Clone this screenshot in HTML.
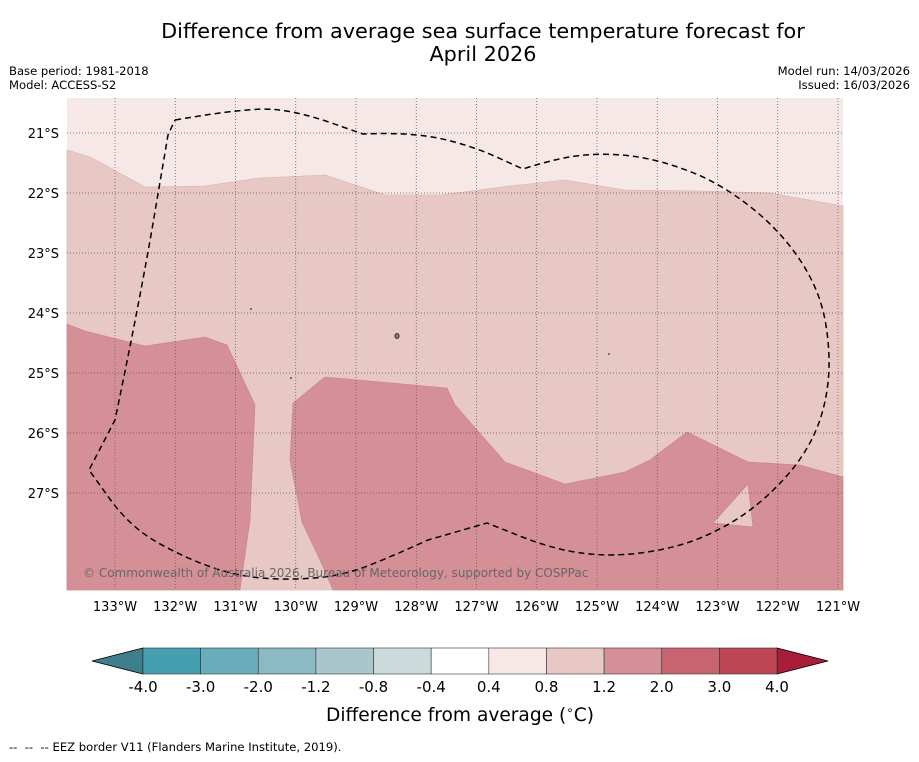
<!DOCTYPE html>
<html><head><meta charset="utf-8"><style>
body{margin:0;background:#fff;font-family:"DejaVu Sans","Liberation Sans",sans-serif;}
svg text{font-family:"DejaVu Sans","Liberation Sans",sans-serif;}
</style></head><body>
<svg id="chart" width="919" height="758" viewBox="0 0 919 758" xmlns="http://www.w3.org/2000/svg">
<text x="483" y="38" font-size="20.8" text-anchor="middle">Difference from average sea surface temperature forecast for</text>
<text x="483" y="61" font-size="20.8" text-anchor="middle">April 2026</text>
<text x="9" y="75" font-size="11.6">Base period: 1981-2018</text>
<text x="9" y="89" font-size="11.6">Model: ACCESS-S2</text>
<text x="910" y="75" font-size="11.6" text-anchor="end">Model run: 14/03/2026</text>
<text x="910" y="89" font-size="11.6" text-anchor="end">Issued: 16/03/2026</text>
<g id="map">
<rect x="67" y="98" width="776" height="492" fill="#f5e8e7"/>
<polygon fill="#e8c8c4" stroke="#d8b0ac" stroke-width="0.6" points="67,150 90,157 145,187 205,186 260,178 325,175 385,195 440,195 510,186 565,180 625,190 700,191 770,193 843,206 843,590 67,590"/>
<polygon fill="#d59097" stroke="#c88088" stroke-width="0.6" points="67,324 85,331 145,346 205,337 227,345 255,405 250,520 240,590 67,590"/>
<polygon fill="#d59097" stroke="#c88088" stroke-width="0.6" points="293,403 325,377 447,388 455,405 505,462 565,484 625,472 650,460 687,432 748,462 800,465 843,477 843,590 333,590 320,560 302,522 290,460"/>
<polygon fill="#e8c8c4" stroke="#c88088" stroke-width="0.6" points="713,523 748,484 753,527"/>
<g id="grid" stroke="#555" stroke-width="0.7" stroke-dasharray="1,2"></g>
<path id="eez" fill="none" stroke="#000" stroke-width="1.5" stroke-dasharray="6,4"/>
<ellipse cx="397" cy="336" rx="2" ry="2.5" fill="#888" stroke="#000" stroke-width="0.8"/>
<circle cx="251" cy="309" r="0.8" fill="#000"/>
<circle cx="291" cy="378" r="0.8" fill="#000"/>
<circle cx="609" cy="354" r="0.8" fill="#000"/>
<text x="83" y="577" font-size="12" fill="#666">© Commonwealth of Australia 2026, Bureau of Meteorology, supported by COSPPac</text>
</g>
<g id="axes" font-size="13"></g>
<g id="cbar"></g>
<text x="460" y="721" font-size="18.6" text-anchor="middle">Difference from average (<tspan baseline-shift="super" font-size="12">∘</tspan>C)</text>
<text x="9" y="751" font-size="11.6" xml:space="preserve">--  --  -- EEZ border V11 (Flanders Marine Institute, 2019).</text>
</svg>
<script>
const lonTicks=[133,132,131,130,129,128,127,126,125,124,123,122,121];
const latTicks=[21,22,23,24,25,26,27];
const cbBounds=[-4.0,-3.0,-2.0,-1.2,-0.8,-0.4,0.4,0.8,1.2,2.0,3.0,4.0];
const cbColors=["#459fb0","#6aacb9","#8bb9c4","#a9c6cc","#cbdbdc","#ffffff","#f5e8e7","#e8c8c4","#d59097","#c8646f","#be4554"];
const NS="http://www.w3.org/2000/svg";
const xLon=l=>115+(133-l)*60.25;
const yLat=l=>133+(l-21)*60;
const grid=document.getElementById('grid'),axes=document.getElementById('axes'),cb=document.getElementById('cbar');
function mk(tag,attrs,parent){const e=document.createElementNS(NS,tag);for(const k in attrs)e.setAttribute(k,attrs[k]);parent.appendChild(e);return e;}
// EEZ path: smooth except at corner points (flag 1)
const eezPts=[[175,120,1],[250,107,0],[300,112,0],[363,134,1],[410,132,0],[470,145,0],[523,169,1],[560,157,0],[610,153,0],[660,160,0],[720,183,0],[780,230,0],[820,290,0],[831,355,0],[825,410,0],[805,455,0],[770,495,0],[730,525,0],[680,547,0],[615,557,0],[555,550,0],[487,523,1],[428,540,1],[395,555,0],[345,575,0],[295,580,0],[240,577,0],[185,558,0],[130,527,0],[89,470,1],[115,420,1],[140,300,0],[168,135,1],[175,120,1]];
let d='M'+eezPts[0][0]+','+eezPts[0][1];
for(let i=1;i<eezPts.length;i++){
 const p=eezPts[i];
 if(p[2]||i===eezPts.length-1){d+=` L${p[0]},${p[1]}`;}
 else{const q=eezPts[i+1];d+=` Q${p[0]},${p[1]} ${(p[0]+q[0])/2},${(p[1]+q[1])/2}`;}
}
document.getElementById('eez').setAttribute('d',d);
lonTicks.forEach(l=>{
 const x=xLon(l);
 const g=mk('line',{x1:x,x2:x,y1:98,y2:590},grid);
 
 
 const t=mk('text',{x:x,y:611,'text-anchor':'middle'},axes);
 t.textContent=l+'°W';
 
 
});
latTicks.forEach(l=>{
 const y=yLat(l);
 const g=mk('line',{x1:67,x2:843,y1:y,y2:y},grid);
 
 
 const t=mk('text',{x:59,y:y+5,'text-anchor':'end'},axes);
 t.textContent=l+'°S';
 
 
});
const cbX0=143,cbX1=777,cbY=648,cbH=26,n=cbColors.length,sw=(cbX1-cbX0)/n;
const lt=mk('polygon',{points:`92,661 ${cbX0},${cbY} ${cbX0},${cbY+cbH}`,fill:'#3d7f8c',stroke:'#000','stroke-width':0.8},cb);


const rt=mk('polygon',{points:`828,661 ${cbX1},${cbY} ${cbX1},${cbY+cbH}`,fill:'#a81d3a',stroke:'#000','stroke-width':0.8},cb);


cbColors.forEach((c,i)=>{
 const r=mk('rect',{x:cbX0+i*sw,y:cbY,width:sw,height:cbH,fill:c,stroke:'#333','stroke-width':0.6},cb);
 
 
});
cbBounds.forEach((b,i)=>{
 const t=mk('text',{x:cbX0+i*sw,y:692,'text-anchor':'middle','font-size':15},cb);
 t.textContent=b.toFixed(1);
 
 
});
</script>
</body></html>
